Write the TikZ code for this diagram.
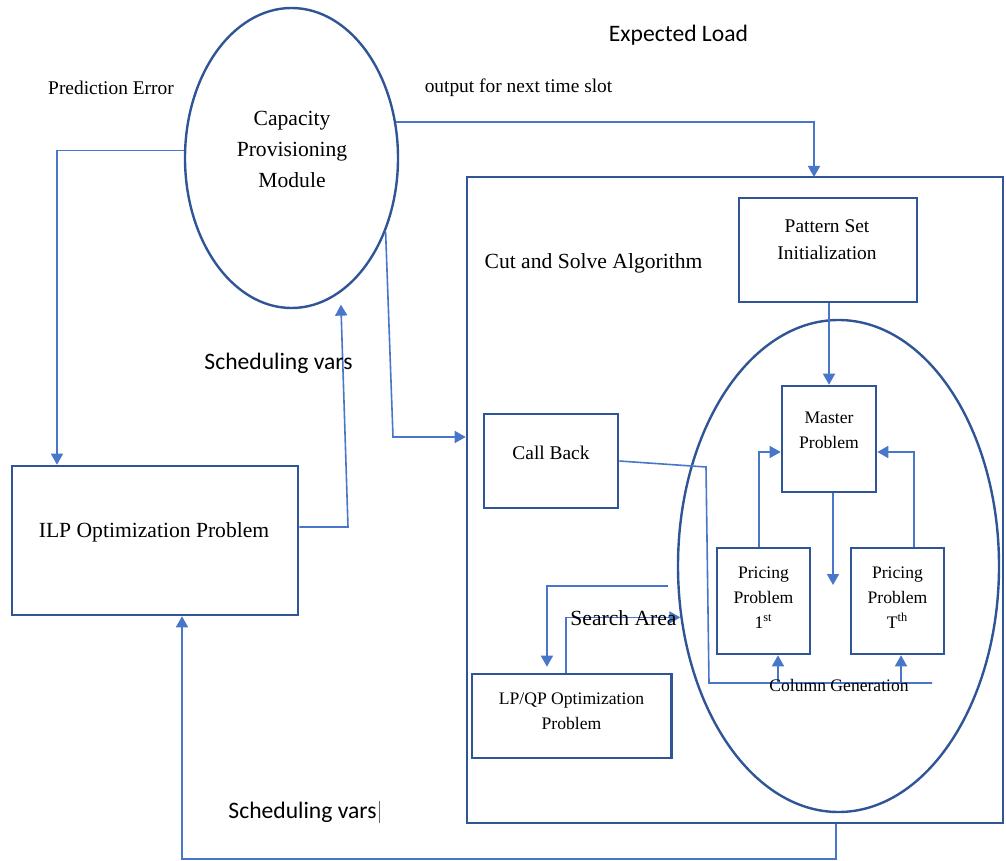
\documentclass[tikz,border=0pt]{standalone}
\usepackage{fontspec}
\setmainfont{Liberation Serif}
\newfontfamily\calfont{Carlito}
\usetikzlibrary{arrows.meta,shapes.geometric}
\definecolor{boxblue}{RGB}{47,85,151}
\definecolor{lineblue}{RGB}{72,118,200}
\begin{document}
\begin{tikzpicture}[x=0.5pt,y=-0.5pt,
    box/.style={draw=boxblue,line width=1.3pt,inner sep=0pt},
    oval/.style={ellipse,draw=boxblue,line width=1.2pt,inner sep=0pt},
    lbl/.style={inner sep=0pt,align=center},
    smalltxt/.style={lbl,font=\fontsize{8.8pt}{12.5pt}\selectfont},
    midtxt/.style={lbl,font=\fontsize{9.7pt}{13.5pt}\selectfont},
    bigtxt/.style={lbl,font=\fontsize{10.8pt}{15.5pt}\selectfont},
    sanstxt/.style={lbl,font=\calfont\fontsize{11.8pt}{14pt}\selectfont},
    wire/.style={draw=lineblue,line width=0.8pt},
    arr/.style={wire,-{Triangle[width=6pt,length=5.5pt]}}]
  \useasboundingbox (0,0) rectangle (1006,861);
  \draw
    (291.5,158) node[oval,minimum width=106.5pt,minimum height=150pt] (cap){}
    (735,500) node[box,minimum width=268pt,minimum height=323pt] (main){}
    (838.5,566) node[oval,minimum width=160.5pt,minimum height=246pt] (gen){}
    (155,540.5) node[box,minimum width=143pt,minimum height=74.5pt] (ilp){}
    (828,250) node[box,minimum width=89pt,minimum height=52pt] (pat){}
    (551,461) node[box,minimum width=67pt,minimum height=47pt] (cb){}
    (829,439) node[box,minimum width=47pt,minimum height=53pt] (mas){}
    (763.5,601) node[box,minimum width=46.5pt,minimum height=53pt] (pp1){}
    (897.5,601) node[box,minimum width=46.5pt,minimum height=53pt] (ppT){}
    (571.75,716) node[box,minimum width=99.75pt,minimum height=42pt] (lp){};
  \coordinate (loadin) at (814,177);
  \coordinate (c1) at (393,437);
  \coordinate (c2) at (348,527);
  \coordinate (c4) at (836,859);
  \coordinate (c5) at (833,585);
  \coordinate (c6) at (706,467);
  \coordinate (c7) at (709,683);
  \coordinate (c8) at (932,683);
  \coordinate (c9) at (668,586);
  \begin{scope}[arr]
    \draw (cap.176) -| ([xshift=-49pt]ilp.north);
    \draw (cap.19) -| (loadin);
    \draw (cap.-38) -- (c1) -- (c1 -| main.west);
    \draw[shorten >=6pt] ([yshift=6.75pt]ilp.east) -- (c2) -- (cap.-70);
    \draw (c4 |- main.south) -- (c4) -| ([xshift=13.5pt]ilp.south);
    \draw (pat.south -| mas.north) -- (mas.north);
    \draw (mas.south -| c5) -- (c5);
    \draw ([xshift=-2.25pt]pp1.north) |- ([yshift=-6.5pt]mas.west);
    \draw ([xshift=8.25pt]ppT.north) |- ([yshift=-6.5pt]mas.east);
    \draw ([xshift=7.25pt]pp1.south |- c7) -- ([xshift=7.25pt]pp1.south);
    \draw ([xshift=1.75pt]ppT.south |- c7) -- ([xshift=1.75pt]ppT.south);
    \draw[shorten >=3pt] (c9) -| ([xshift=-12.4pt]lp.north);
    \draw ([xshift=-2.9pt]lp.north) |- (gen.198);
  \end{scope}
  \draw[wire] (cb.east) -- (c6) -- (c7) -- (c8);
  \draw
    (292,149) node[bigtxt] (captxt){Capacity\\Provisioning\\Module}
    (111,88) node[midtxt] (prederr){Prediction Error}
    (518.5,88) node[midtxt] (outnext){output for next time slot}
    (678.5,35) node[sanstxt] (expload){Expected Load}
    (593.5,263) node[bigtxt] (cutlbl){Cut and Solve Algorithm}
    (278.5,363) node[sanstxt] (sched1){Scheduling vars}
    (302.5,812) node[sanstxt] (sched2){Scheduling vars}
    (154,532) node[bigtxt] (ilptxt){ILP Optimization Problem}
    (827,240) node[midtxt] (pattxt){Pattern Set\\Initialization}
    (551,453) node[midtxt] (cbtxt){Call Back}
    (829,430.5) node[smalltxt] (mastxt){Master\\Problem}
    (763.5,598) node[smalltxt] (pp1txt){Pricing\\Problem\\1\textsuperscript{st}}
    (897.5,598) node[smalltxt] (ppTtxt){Pricing\\Problem\\T\textsuperscript{th}}
    (571.5,711) node[smalltxt] (lptxt){LP/QP Optimization\\Problem}
    (623.5,618) node[bigtxt] (search){Search Area}
    (839,685) node[smalltxt] (colgen){Column Generation};
  \draw[black!60,line width=0.4pt] ([xshift=1pt]sched2.north east) -- ([xshift=1pt]sched2.south east);
\end{tikzpicture}
\end{document}
